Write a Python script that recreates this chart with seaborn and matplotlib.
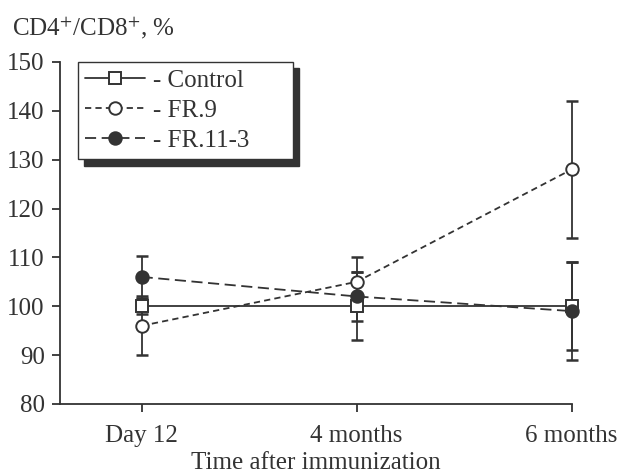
import matplotlib
matplotlib.use("Agg")
import matplotlib.pyplot as plt
import pandas as pd
import seaborn as sns

# data
times = ["Day 12", "4 months", "6 months"]
control = [100, 100, 100]
control_err = [1.5, 7, 9]
fr9 = [96, 105, 128]
fr9_err = [6, 5, 14]
fr113 = [106, 102, 99]
fr113_err = [4.3, 5, 10]

series = {
    "Control": (control, control_err),
    "FR.9": (fr9, fr9_err),
    "FR.11-3": (fr113, fr113_err),
}

rows = []
for name, (vals, errs) in series.items():
    for i, (v, e) in enumerate(zip(vals, errs)):
        rows.append({"pos": i, "time": times[i], "value": v, "err": e, "group": name})
df = pd.DataFrame(rows)

sns.set_theme(style="ticks")
plt.rcParams["font.family"] = ["Liberation Serif", "DejaVu Serif"]
plt.rcParams["mathtext.fontset"] = "stix"
plt.rcParams["lines.scale_dashes"] = False

ink = "#333333"
fs = 18
fig = plt.figure(figsize=(6.31, 4.73), dpi=100)
ax = fig.add_axes([0.095, 0.146, 0.811, 0.723])

styles = {
    "Control": dict(marker="s", mfc="white", dashes=(None, None)),
    "FR.9": dict(marker="o", mfc="white", dashes=(4.5, 3)),
    "FR.11-3": dict(marker="o", mfc=ink, dashes=(8, 4)),
}

handles = []
for name in series:
    sub = df[df.group == name]
    st = styles[name]
    _, caps, bars = ax.errorbar(sub.pos, sub.value, yerr=sub.err, fmt="none",
                                ecolor=ink, elinewidth=1.3, capsize=4,
                                capthick=1.8, zorder=2)
    for a in list(caps) + list(bars):
        a.set_clip_on(False)
    sns.lineplot(data=sub, x="pos", y="value", ax=ax, color=ink, lw=1.3,
                 marker=st["marker"], markersize=9, markerfacecolor=st["mfc"],
                 markeredgecolor=ink, markeredgewidth=1.4, zorder=3,
                 legend=False)
    line = ax.lines[-1]
    line.set_clip_on(False)
    if st["dashes"][0] is not None:
        line.set_dashes(st["dashes"])
    handles.append(line)

ax.set_xlim(-0.38, 2.0)
ax.set_ylim(80, 150)
ax.set_xticks(range(len(times)))
ax.set_xticklabels(times)
ax.set_yticks(range(80, 151, 10))
ax.set_xlabel("Time after immunization", fontsize=fs, color=ink, labelpad=4)
ax.set_ylabel("")
ax.tick_params(axis="both", labelsize=fs, colors=ink, length=6, width=1.3,
               direction="out")
ax.tick_params(axis="x", pad=9)
ax.tick_params(axis="y", pad=5)
for s in ["top", "right"]:
    ax.spines[s].set_visible(False)
for s in ["left", "bottom"]:
    ax.spines[s].set_color(ink)
    ax.spines[s].set_linewidth(1.3)

fig.text(0.019, 0.925, r"CD4$^{+}$/CD8$^{+}$, %", fontsize=fs, color=ink,
         ha="left", va="baseline")

leg = ax.legend(handles, ["- " + n for n in series], loc="upper left",
                bbox_to_anchor=(0.035, 0.722, 0.42, 0.278), mode="expand",
                borderaxespad=0, fontsize=fs,
                frameon=True, fancybox=False, handlelength=2.4,
                handletextpad=0.3, labelspacing=0.3, borderpad=0.3,
                shadow={"color": ink, "alpha": 1, "ox": 4.5, "oy": -4.5})
leg.get_frame().set_edgecolor(ink)
leg.get_frame().set_linewidth(1.0)
for t in leg.get_texts():
    t.set_color(ink)

fig.savefig("out.png", dpi=100, facecolor="white")
